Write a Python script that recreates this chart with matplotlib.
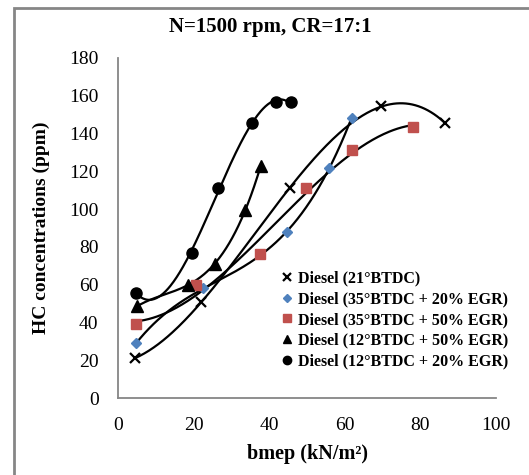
import numpy as np
import matplotlib
matplotlib.use('Agg')
import matplotlib.pyplot as plt
from matplotlib.patches import Rectangle

plt.rcParams['font.family'] = ['Liberation Serif', 'DejaVu Serif']

# 数据 (bmep, HC)
x_21 = [4.5, 22, 45.5, 69.5, 86.5]
y_21 = [21, 51, 111, 154.5, 145.5]

x_35_20 = [4.8, 22.5, 44.8, 55.8, 61.8]
y_35_20 = [29, 58, 88, 122, 148]

x_35_50 = [4.8, 20.6, 37.6, 49.7, 61.8, 78]
y_35_50 = [39, 60, 76.5, 111, 131.5, 143.5]

x_12_50 = [5, 18.5, 25.7, 33.6, 37.8]
y_12_50 = [48.5, 60, 71, 99.5, 123]

x_12_20 = [4.8, 19.5, 26.5, 35.5, 41.8, 45.8]
y_12_20 = [55.5, 77, 111, 145.5, 156.5, 156.5]

labels = ['Diesel (21°BTDC)', 'Diesel (35°BTDC + 20% EGR)',
          'Diesel (35°BTDC + 50% EGR)', 'Diesel (12°BTDC + 50% EGR)',
          'Diesel (12°BTDC + 20% EGR)']

series = [
    (x_21, y_21, dict(marker='x', color='black', markersize=7, markeredgewidth=1.6)),
    (x_35_20, y_35_20, dict(marker='D', color='#4F81BD', markersize=5.5)),
    (x_35_50, y_35_50, dict(marker='s', color='#C0504D', markersize=7.5)),
    (x_12_50, y_12_50, dict(marker='^', color='black', markersize=8)),
    (x_12_20, y_12_20, dict(marker='o', color='black', markersize=8)),
]

fig = plt.figure(figsize=(5.29, 4.75), dpi=100)
ax = fig.add_axes([0.2231, 0.1621, 0.7145, 0.7158])

# 外框
fig.patches.append(Rectangle((14 / 529, -0.05), 1.2, 1 - 8 / 475 + 0.05,
                             transform=fig.transFigure, fill=False,
                             edgecolor='#868686', linewidth=2))

for (xs, ys, st), lab in zip(series, labels):
    # 三次多项式趋势线
    coef = np.polyfit(xs, ys, 3)
    xx = np.linspace(min(xs), max(xs), 200)
    ax.plot(xx, np.polyval(coef, xx), color='black', linewidth=1.6, zorder=2)
    ax.plot(xs, ys, linestyle='none', label=lab, zorder=3, **st)

ax.set_xlim(0, 100)
ax.set_ylim(0, 180)
ax.set_xticks(range(0, 101, 20))
ax.set_yticks(range(0, 181, 20))
ax.tick_params(length=0, labelsize=14, pad=14)
ax.tick_params(axis='x', pad=14)
for s in ['top', 'right']:
    ax.spines[s].set_visible(False)
for s in ['left', 'bottom']:
    ax.spines[s].set_color('#868686')
    ax.spines[s].set_linewidth(1.3)

fig.text(270 / 529, 1 - 27 / 475, 'N=1500 rpm, CR=17:1', fontsize=15,
         fontweight='bold', ha='center', va='center')
ax.set_xlabel('bmep (kN/m²)', fontsize=14.5, fontweight='bold', labelpad=7)
ax.set_ylabel('HC concentrations (ppm)', fontsize=14, fontweight='bold', labelpad=14)

leg = ax.legend(loc='lower right', bbox_to_anchor=(1.05, 0.065), frameon=False,
                prop={'weight': 'bold', 'size': 11.5}, handlelength=0.8,
                handletextpad=0.3, labelspacing=0.3, borderaxespad=0,
                markerscale=0.75)

fig.savefig('out.png', dpi=100)
